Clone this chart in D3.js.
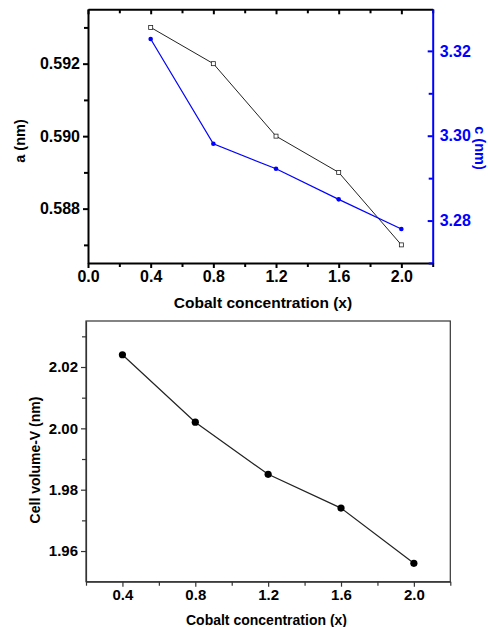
<!DOCTYPE html>
<html>
<head>
<meta charset="utf-8">
<script src="https://cdn.jsdelivr.net/npm/d3@7"></script>
<style>
  body { margin: 0; background: #fff; }
  svg text { font-family: "Liberation Sans", Arial, sans-serif; font-weight: bold; }
</style>
</head>
<body>
<svg id="chart" width="488" height="627"></svg>
<script>
// data
const cobalt = [0.4, 0.8, 1.2, 1.6, 2.0];
const latticeA = [0.593, 0.592, 0.590, 0.589, 0.587];
const latticeC = [3.3228, 3.2981, 3.2922, 3.2850, 3.2780];
const cellVolume = [2.024, 2.002, 1.985, 1.974, 1.956];

const topXTicks = [0.0, 0.4, 0.8, 1.2, 1.6, 2.0];
const topXMinor = [0.2, 0.6, 1.0, 1.4, 1.8, 2.2];
const aTicks = [0.588, 0.590, 0.592];
const aMinor = [0.587, 0.589, 0.591, 0.593];
const cTicks = [3.28, 3.30, 3.32];
const cMinor = [3.27, 3.29, 3.31];
const botXTicks = [0.4, 0.8, 1.2, 1.6, 2.0];
const botXMinor = [0.2, 0.6, 1.0, 1.4, 1.8, 2.2];
const vTicks = [1.96, 1.98, 2.00, 2.02];
const vMinor = [1.97, 1.99, 2.01, 2.03];

const blue = "#0000ff";
const svg = d3.select("#chart");

// helper: draw an axis with major + minor ticks
function drawAxis(g, axisFn, scale, major, minor, fmt, color, majorLen, minorLen, width, fontSize) {
  g.call(axisFn(scale).tickValues(major).tickFormat(fmt).tickSize(majorLen).tickPadding(3).tickSizeOuter(0));
  g.append("g").attr("class", "minor")
    .call(axisFn(scale).tickValues(minor).tickFormat("").tickSize(minorLen).tickSizeOuter(0))
    .select(".domain").remove();
  g.selectAll("path.domain").attr("stroke", color).attr("stroke-width", width);
  g.selectAll("line").attr("stroke", color).attr("stroke-width", width);
  g.selectAll("text").attr("fill", color).style("font-size", fontSize + "px");
}

// ---------- top chart: lattice parameters ----------
const x1 = d3.scaleLinear().domain([0, 2.2]).range([88, 432.7]);
const yA = d3.scaleLinear().domain([0.5865, 0.5935]).range([263, 9.3]);
const yC = d3.scaleLinear().domain([3.27, 3.3298]).range([263, 9.3]);

const topG = svg.append("g");

// top frame line with inward ticks
const gTopAxis = topG.append("g").attr("transform", `translate(0,${yA.range()[1]})`);
drawAxis(gTopAxis, d3.axisTop, x1, topXTicks, topXMinor, "", "#000", -5, -4, 2, 16);

const gBottom = topG.append("g").attr("transform", `translate(0,${yA.range()[0]})`);
drawAxis(gBottom, d3.axisBottom, x1, topXTicks, topXMinor, d3.format(".1f"), "#000", 5, 4, 2, 16);

const gLeft = topG.append("g").attr("transform", `translate(${x1.range()[0]},0)`);
drawAxis(gLeft, d3.axisLeft, yA, aTicks, aMinor, d3.format(".3f"), "#000", 5, 4, 2, 16);

const gRight = topG.append("g").attr("transform", `translate(${x1.range()[1]},0)`);
drawAxis(gRight, d3.axisRight, yC, cTicks, cMinor, d3.format(".2f"), blue, 5, 4, 2, 16);
// right ticks point inward, labels stay outside
gRight.selectAll(".tick line").attr("x2", -5);
gRight.selectAll(".minor .tick line").attr("x2", -4);
gRight.selectAll(".tick text").attr("x", 7);

const lineA = d3.line().x((d, i) => x1(cobalt[i])).y(d => yA(d));
const lineC = d3.line().x((d, i) => x1(cobalt[i])).y(d => yC(d));

topG.append("path").datum(latticeA).attr("d", lineA)
  .attr("fill", "none").attr("stroke", "#222").attr("stroke-width", 1);
topG.append("path").datum(latticeC).attr("d", lineC)
  .attr("fill", "none").attr("stroke", blue).attr("stroke-width", 1.2);

topG.selectAll("rect.ma").data(latticeA).join("rect")
  .attr("class", "ma")
  .attr("x", (d, i) => x1(cobalt[i]) - 2).attr("y", d => yA(d) - 2)
  .attr("width", 4).attr("height", 4)
  .attr("fill", "#fff").attr("stroke", "#222").attr("stroke-width", 0.8);
topG.selectAll("circle.mc").data(latticeC).join("circle")
  .attr("class", "mc")
  .attr("cx", (d, i) => x1(cobalt[i])).attr("cy", d => yC(d))
  .attr("r", 2.3).attr("fill", blue);

topG.append("text").attr("x", 263).attr("y", 308).attr("text-anchor", "middle")
  .style("font-size", "15.5px").text("Cobalt concentration (x)");
topG.append("text").attr("transform", "translate(25,141) rotate(-90)")
  .attr("text-anchor", "middle").style("font-size", "14.5px").text("a (nm)");
topG.append("text").attr("transform", "translate(475,148) rotate(90)")
  .attr("text-anchor", "middle").attr("fill", blue).style("font-size", "14.5px").text("c (nm)");

// ---------- bottom chart: cell volume ----------
const x2 = d3.scaleLinear().domain([0.2, 2.2]).range([86, 450.3]);
const yV = d3.scaleLinear().domain([1.95, 2.035]).range([581.7, 321]);

const botG = svg.append("g");
const frameColor = "#333";

botG.append("rect")
  .attr("x", x2.range()[0]).attr("y", yV.range()[1])
  .attr("width", x2.range()[1] - x2.range()[0])
  .attr("height", yV.range()[0] - yV.range()[1])
  .attr("fill", "none").attr("stroke", frameColor).attr("stroke-width", 1.2);

const gBX = botG.append("g").attr("transform", `translate(0,${yV.range()[0]})`);
drawAxis(gBX, d3.axisBottom, x2, botXTicks, botXMinor, d3.format(".1f"), frameColor, 5, 4, 1.2, 15);
gBX.selectAll("text").attr("fill", "#000");

const gBY = botG.append("g").attr("transform", `translate(${x2.range()[0]},0)`);
drawAxis(gBY, d3.axisLeft, yV, vTicks, vMinor, d3.format(".2f"), frameColor, 5, 4, 1.2, 15);
gBY.selectAll("text").attr("fill", "#000");

const lineV = d3.line().x((d, i) => x2(cobalt[i])).y(d => yV(d));
botG.append("path").datum(cellVolume).attr("d", lineV)
  .attr("fill", "none").attr("stroke", "#222").attr("stroke-width", 1.2);
botG.selectAll("circle.mv").data(cellVolume).join("circle")
  .attr("class", "mv")
  .attr("cx", (d, i) => x2(cobalt[i])).attr("cy", d => yV(d))
  .attr("r", 3.6).attr("fill", "#000");

botG.append("text").attr("x", 266.5).attr("y", 625).attr("text-anchor", "middle")
  .style("font-size", "14px").text("Cobalt concentration (x)");
botG.append("text").attr("transform", "translate(40,460) rotate(-90)")
  .attr("text-anchor", "middle").style("font-size", "14px").text("Cell volume-V (nm)");
</script>
</body>
</html>
